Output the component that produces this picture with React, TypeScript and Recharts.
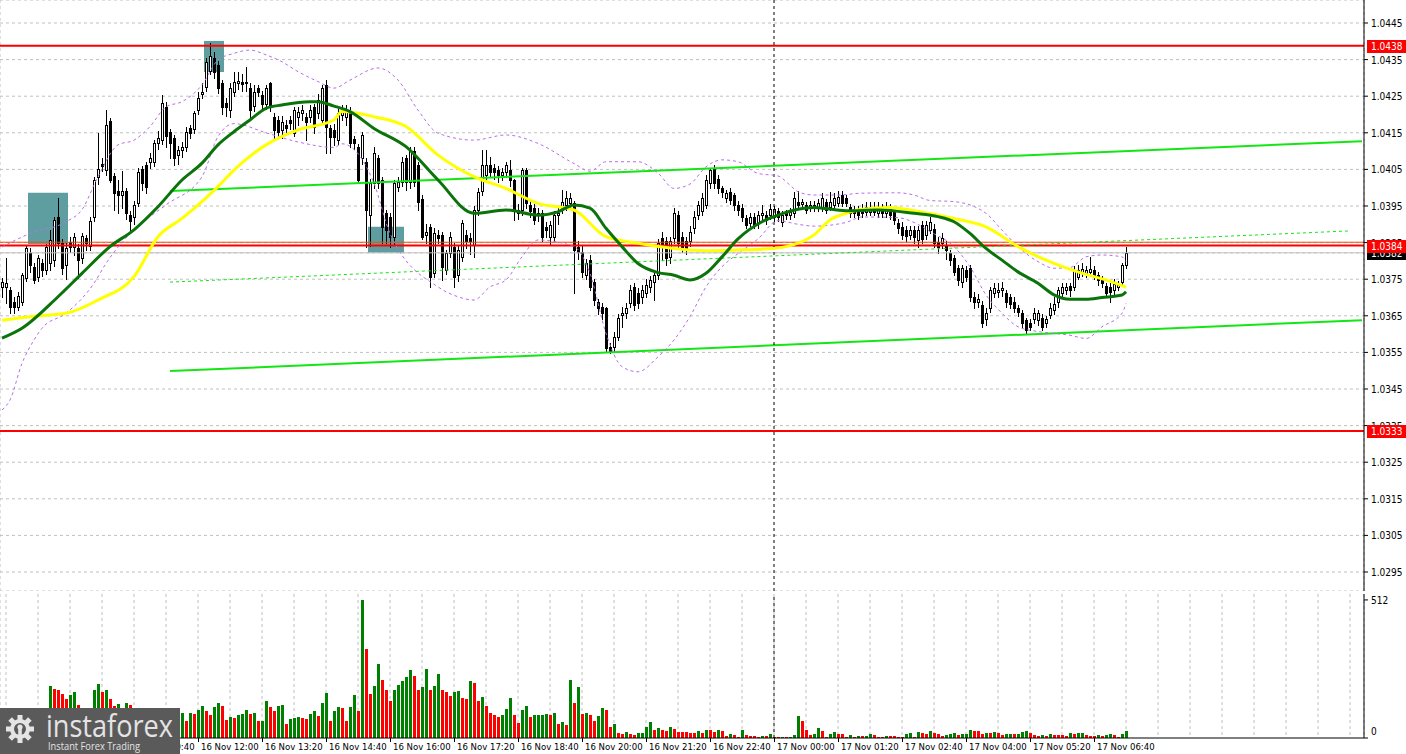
import React from "react";
import {
  ComposedChart,
  BarChart,
  Bar,
  Line,
  XAxis,
  YAxis,
  CartesianGrid,
  ReferenceLine,
  ReferenceArea,
  Cell,
} from "recharts";

// EURUSD-style M5 candles, 16 Nov 07:55 .. 17 Nov 07:20
const opens = [
  1.0373, 1.0373, 1.0372, 1.03689, 1.03675, 1.03689, 1.03752, 1.03822, 1.03784, 1.03757,
  1.03793, 1.03775, 1.03793, 1.03802, 1.03921, 1.03848, 1.03789, 1.03852, 1.03839, 1.03834,
  1.03807, 1.03862, 1.03841, 1.03921, 1.0403, 1.04065, 1.04048, 1.04183, 1.04032, 1.03991,
  1.0398, 1.03991, 1.03925, 1.03921, 1.03959, 1.0405, 1.04062, 1.04071, 1.04071, 1.04121,
  1.0413, 1.04221, 1.04153, 1.04135, 1.04089, 1.04103, 1.04112, 1.04162, 1.0416, 1.04212,
  1.04256, 1.04276, 1.0432, 1.04355, 1.04335, 1.04285, 1.04232, 1.04212, 1.04262, 1.04285,
  1.0429, 1.0429, 1.04272, 1.04223, 1.04272, 1.04253, 1.04229, 1.04285, 1.04194, 1.04185,
  1.04158, 1.04171, 1.04185, 1.04149, 1.04194, 1.04203, 1.04194, 1.04194, 1.04221, 1.04203,
  1.04185, 1.04281, 1.04162, 1.04158, 1.0413, 1.04198, 1.04194, 1.04208, 1.04132, 1.0411,
  1.0408, 1.0407, 1.03925, 1.04012, 1.0408, 1.04021, 1.0393, 1.03921, 1.03866, 1.04003,
  1.04016, 1.0408, 1.04016, 1.041, 1.04062, 1.0397, 1.0387, 1.03893, 1.03766, 1.0387,
  1.0387, 1.03775, 1.03821, 1.03839, 1.03761, 1.03811, 1.03871, 1.03862, 1.03843, 1.03939,
  1.0399, 1.04035, 1.04062, 1.04053, 1.04048, 1.04035, 1.04044, 1.04048, 1.0402, 1.03939,
  1.03939, 1.04048, 1.03953, 1.03944, 1.03925, 1.0393, 1.03893, 1.03866, 1.03866, 1.03925,
  1.03944, 1.03953, 1.03957, 1.03957, 1.03839, 1.03825, 1.03761, 1.03802, 1.03743, 1.03688,
  1.03675, 1.0367, 1.03565, 1.03565, 1.03593, 1.03652, 1.03657, 1.03684, 1.03729, 1.03711,
  1.03702, 1.03711, 1.03729, 1.03743, 1.03761, 1.03862, 1.03853, 1.03811, 1.03862, 1.03925,
  1.03866, 1.03853, 1.03853, 1.03889, 1.03925, 1.03935, 1.03953, 1.04012, 1.04053, 1.04025,
  1.03998, 1.03971, 1.03989, 1.0398, 1.03953, 1.03944, 1.03916, 1.03903, 1.03921, 1.03903,
  1.03925, 1.03925, 1.03925, 1.03921, 1.03935, 1.03907, 1.03932, 1.03925, 1.0393, 1.03962,
  1.03955, 1.03953, 1.03944, 1.03953, 1.03944, 1.03944, 1.03962, 1.03948, 1.03953, 1.03957,
  1.0398, 1.03971, 1.03948, 1.03941, 1.03941, 1.03944, 1.03934, 1.03934, 1.03948, 1.0393,
  1.03944, 1.0393, 1.03941, 1.03934, 1.03903, 1.03893, 1.03884, 1.03871, 1.03884, 1.03857,
  1.03898, 1.03871, 1.03884, 1.03888, 1.03852, 1.03848, 1.03843, 1.03821, 1.03807, 1.0378,
  1.03743, 1.03775, 1.0378, 1.03702, 1.03688, 1.03679, 1.0364, 1.0367, 1.03711, 1.03716,
  1.0372, 1.03711, 1.03702, 1.03688, 1.0367, 1.03658, 1.03638, 1.03631, 1.0364, 1.03638,
  1.03643, 1.03629, 1.03652, 1.03666, 1.03688, 1.03711, 1.0372, 1.03731, 1.0373, 1.03757,
  1.0377, 1.03766, 1.0377, 1.03775, 1.03761, 1.03752, 1.03731, 1.03729, 1.0372, 1.03729,
  1.03743, 1.03789,
];

const highs = [
  1.03752, 1.03807, 1.03729, 1.03702, 1.03715, 1.03766, 1.03843, 1.03835, 1.03795, 1.03815,
  1.03805, 1.03845, 1.03884, 1.0392, 1.03971, 1.0386, 1.0385, 1.03865, 1.03875, 1.03845,
  1.03875, 1.0387, 1.0392, 1.0403, 1.0415, 1.0408, 1.04212, 1.0419, 1.0404, 1.0402,
  1.04045, 1.04, 1.03935, 1.03965, 1.04055, 1.0406, 1.0407, 1.04095, 1.0413, 1.04155,
  1.04253, 1.04235, 1.0416, 1.04145, 1.04115, 1.04125, 1.04165, 1.0417, 1.0421, 1.04262,
  1.04285, 1.04355, 1.04395, 1.0437, 1.04345, 1.04295, 1.04245, 1.04285, 1.04315, 1.04315,
  1.0431, 1.0433, 1.04285, 1.0428, 1.0428, 1.04265, 1.0428, 1.0429, 1.04205, 1.04195,
  1.04195, 1.04185, 1.04195, 1.0422, 1.0422, 1.04225, 1.04205, 1.04225, 1.0423, 1.04255,
  1.0428, 1.04295, 1.0417, 1.04175, 1.04215, 1.04225, 1.04225, 1.0422, 1.0414, 1.0412,
  1.04153, 1.0408, 1.04025, 1.04112, 1.0409, 1.0403, 1.0394, 1.0393, 1.0402, 1.0403,
  1.04085, 1.0409, 1.0411, 1.0411, 1.0407, 1.0398, 1.039, 1.039, 1.0389, 1.03885,
  1.0388, 1.0383, 1.0388, 1.0385, 1.0384, 1.03912, 1.03885, 1.03875, 1.0395, 1.03998,
  1.04103, 1.04103, 1.04085, 1.04065, 1.0406, 1.04055, 1.04071, 1.04075, 1.04025, 1.03955,
  1.04055, 1.04055, 1.03965, 1.03955, 1.03945, 1.0394, 1.03905, 1.0391, 1.03935, 1.03945,
  1.03994, 1.0399, 1.03985, 1.03965, 1.03855, 1.0384, 1.03805, 1.03815, 1.0375, 1.03695,
  1.03685, 1.03675, 1.03575, 1.03605, 1.03655, 1.03675, 1.03685, 1.03735, 1.0374, 1.03725,
  1.03735, 1.0375, 1.0376, 1.0377, 1.0386, 1.0388, 1.03865, 1.03865, 1.03945, 1.03935,
  1.0388, 1.03865, 1.03895, 1.03935, 1.03965, 1.03985, 1.04035, 1.04055, 1.04062, 1.04035,
  1.04005, 1.03995, 1.03998, 1.03985, 1.03965, 1.03955, 1.03925, 1.0393, 1.0393, 1.03935,
  1.03953, 1.03935, 1.03955, 1.0395, 1.03945, 1.03935, 1.0394, 1.03945, 1.03989, 1.0399,
  1.0397, 1.03962, 1.03965, 1.03965, 1.0397, 1.03985, 1.0397, 1.03989, 1.03985, 1.0399,
  1.0399, 1.0398, 1.03955, 1.0395, 1.0395, 1.03955, 1.0396, 1.0396, 1.0396, 1.0396,
  1.03955, 1.0396, 1.03955, 1.0394, 1.03915, 1.03905, 1.03895, 1.03895, 1.03895, 1.03895,
  1.0391, 1.0391, 1.0392, 1.039, 1.03865, 1.03875, 1.03855, 1.0383, 1.03815, 1.0379,
  1.0379, 1.03785, 1.03789, 1.03715, 1.0371, 1.0369, 1.0367, 1.0373, 1.03739, 1.03739,
  1.03743, 1.0372, 1.0371, 1.037, 1.0368, 1.03665, 1.03645, 1.0364, 1.0367, 1.03665,
  1.03655, 1.0365, 1.03685, 1.037, 1.0373, 1.03739, 1.0374, 1.0374, 1.03785, 1.0379,
  1.03793, 1.03785, 1.0381, 1.03785, 1.0377, 1.0376, 1.0374, 1.03739, 1.0375, 1.03745,
  1.03795, 1.03839,
];

const lows = [
  1.03702, 1.03684, 1.03657, 1.03657, 1.03665, 1.0368, 1.03745, 1.0377, 1.0374, 1.03745,
  1.0376, 1.03765, 1.03775, 1.03785, 1.03835, 1.03765, 1.0375, 1.03825, 1.03815, 1.03752,
  1.03795, 1.0383, 1.0383, 1.0391, 1.0401, 1.04045, 1.04035, 1.04016, 1.0394, 1.0393,
  1.03945, 1.03915, 1.03885, 1.039, 1.0395, 1.03995, 1.03985, 1.04055, 1.0406, 1.04105,
  1.0412, 1.0411, 1.0408, 1.04062, 1.04065, 1.04085, 1.041, 1.04135, 1.0415, 1.042,
  1.04245, 1.04265, 1.0431, 1.043, 1.0426, 1.042, 1.04195, 1.04192, 1.0425, 1.0427,
  1.04265, 1.04265, 1.04185, 1.0421, 1.0425, 1.04215, 1.04215, 1.0421, 1.0413, 1.04135,
  1.04135, 1.04145, 1.0416, 1.0414, 1.0417, 1.04185, 1.0413, 1.0418, 1.0415, 1.0419,
  1.04175, 1.04094, 1.04094, 1.04117, 1.0412, 1.04185, 1.0417, 1.0411, 1.04105, 1.04016,
  1.04065, 1.03839, 1.0384, 1.04, 1.03998, 1.03848, 1.03848, 1.03839, 1.03845, 1.0399,
  1.04005, 1.03995, 1.04, 1.04005, 1.0394, 1.0386, 1.0385, 1.03729, 1.03755, 1.0385,
  1.03748, 1.03765, 1.0381, 1.0373, 1.03745, 1.038, 1.03835, 1.0382, 1.03811, 1.03925,
  1.0398, 1.0402, 1.0403, 1.04025, 1.04015, 1.0402, 1.0403, 1.04005, 1.03912, 1.03915,
  1.03925, 1.03945, 1.0392, 1.039, 1.0391, 1.03855, 1.03865, 1.03843, 1.03855, 1.039,
  1.0393, 1.0394, 1.03945, 1.03711, 1.03805, 1.03755, 1.0375, 1.0372, 1.0368, 1.03655,
  1.0364, 1.03552, 1.03548, 1.03552, 1.03585, 1.0362, 1.03645, 1.03675, 1.03665, 1.0367,
  1.03685, 1.037, 1.03715, 1.03693, 1.0375, 1.03802, 1.0379, 1.03795, 1.0385, 1.03835,
  1.03825, 1.0382, 1.0384, 1.03875, 1.03915, 1.03925, 1.03945, 1.04, 1.04, 1.03985,
  1.03975, 1.0396, 1.03955, 1.0394, 1.03925, 1.0391, 1.03889, 1.03895, 1.0389, 1.0389,
  1.03915, 1.039, 1.03915, 1.0391, 1.0391, 1.03895, 1.03915, 1.03915, 1.0392, 1.03945,
  1.03945, 1.0393, 1.03935, 1.03935, 1.03935, 1.03935, 1.0393, 1.0394, 1.03945, 1.0395,
  1.0395, 1.0395, 1.0392, 1.0392, 1.03915, 1.0392, 1.03925, 1.03925, 1.03925, 1.0392,
  1.0392, 1.0392, 1.03915, 1.039, 1.03875, 1.0386, 1.03855, 1.0386, 1.0385, 1.03839,
  1.0385, 1.0386, 1.03875, 1.03839, 1.03822, 1.03835, 1.03805, 1.0379, 1.03761, 1.03735,
  1.0373, 1.03745, 1.0369, 1.0367, 1.03675, 1.0362, 1.03625, 1.0366, 1.037, 1.037,
  1.03705, 1.03675, 1.0367, 1.0366, 1.0365, 1.0362, 1.036, 1.0361, 1.0363, 1.03625,
  1.0361, 1.0362, 1.03645, 1.03655, 1.03675, 1.037, 1.0371, 1.03705, 1.0372, 1.0375,
  1.0376, 1.03755, 1.0376, 1.0375, 1.03735, 1.0373, 1.037, 1.03688, 1.0371, 1.0372,
  1.03735, 1.0378,
];

const closes = [
  1.03743, 1.0374, 1.03675, 1.03675, 1.03705, 1.03761, 1.03834, 1.03789, 1.03748, 1.03807,
  1.03775, 1.03839, 1.03857, 1.03912, 1.03848, 1.0378, 1.03834, 1.03839, 1.03866, 1.03802,
  1.03869, 1.03848, 1.0391, 1.04021, 1.0405, 1.04058, 1.04171, 1.04021, 1.03985, 1.0398,
  1.03991, 1.0393, 1.0391, 1.03953, 1.04044, 1.04012, 1.04003, 1.04082, 1.04121, 1.04135,
  1.04231, 1.0414, 1.04121, 1.0408, 1.04103, 1.04112, 1.04153, 1.04149, 1.04203, 1.04244,
  1.04262, 1.04344, 1.0436, 1.04315, 1.04272, 1.04221, 1.04221, 1.04272, 1.0429, 1.04292,
  1.04283, 1.04285, 1.04212, 1.04262, 1.04262, 1.04229, 1.04272, 1.04221, 1.04158, 1.04153,
  1.0418, 1.04162, 1.04176, 1.04212, 1.04208, 1.04212, 1.0418, 1.04212, 1.04167, 1.0424,
  1.04272, 1.04167, 1.04139, 1.04139, 1.04203, 1.04208, 1.04212, 1.04121, 1.04121, 1.04021,
  1.04144, 1.0394, 1.04012, 1.04094, 1.04012, 1.03893, 1.03884, 1.03866, 1.04012, 1.04016,
  1.04071, 1.04016, 1.04103, 1.04016, 1.03962, 1.03866, 1.0388, 1.03757, 1.03875, 1.03862,
  1.03784, 1.03821, 1.03866, 1.03757, 1.0383, 1.03903, 1.03853, 1.03853, 1.03939, 1.03989,
  1.04062, 1.04062, 1.04044, 1.04044, 1.04035, 1.04044, 1.04062, 1.04021, 1.03939, 1.0393,
  1.04048, 1.03957, 1.03935, 1.03912, 1.0393, 1.03866, 1.03884, 1.03898, 1.03925, 1.0393,
  1.03962, 1.03971, 1.03971, 1.0383, 1.03825, 1.0377, 1.03793, 1.0373, 1.03693, 1.0367,
  1.03657, 1.03561, 1.03552, 1.03593, 1.03643, 1.03657, 1.0367, 1.0372, 1.03679, 1.03684,
  1.0372, 1.03734, 1.03748, 1.03761, 1.03848, 1.03839, 1.03807, 1.03853, 1.0393, 1.03848,
  1.03839, 1.03835, 1.0388, 1.03921, 1.03953, 1.03971, 1.04021, 1.04048, 1.04012, 1.03998,
  1.03989, 1.03985, 1.03966, 1.03953, 1.03939, 1.03921, 1.03898, 1.03921, 1.03898, 1.03925,
  1.03932, 1.03912, 1.03941, 1.03941, 1.03921, 1.03925, 1.03925, 1.03934, 1.03971, 1.03953,
  1.03962, 1.03939, 1.03953, 1.03944, 1.03957, 1.03971, 1.03939, 1.03962, 1.03971, 1.03975,
  1.03957, 1.03957, 1.0393, 1.0393, 1.03925, 1.0393, 1.03948, 1.03948, 1.03934, 1.03948,
  1.0393, 1.03948, 1.03925, 1.03912, 1.03889, 1.03871, 1.03868, 1.03884, 1.03866, 1.03884,
  1.03861, 1.03898, 1.03905, 1.03848, 1.03839, 1.03862, 1.0383, 1.03802, 1.0377, 1.03748,
  1.0378, 1.03757, 1.03702, 1.03688, 1.03695, 1.03629, 1.03658, 1.0372, 1.03725, 1.0372,
  1.03725, 1.03688, 1.03682, 1.0367, 1.03661, 1.03629, 1.03611, 1.0362, 1.03658, 1.03658,
  1.0362, 1.0364, 1.0367, 1.03682, 1.0372, 1.03729, 1.03729, 1.0372, 1.03773, 1.03775,
  1.03779, 1.03775, 1.03779, 1.03761, 1.03748, 1.03739, 1.03711, 1.03716, 1.03737, 1.03735,
  1.03789, 1.03822,
];

const volumes = [
  55, 70, 85, 60, 75, 95, 80, 65, 90, 70,
  85, 100, 194, 182, 179, 164, 145, 160, 171, 122,
  111, 95, 105, 179, 201, 171, 179, 145, 119, 126,
  105, 130, 122, 100, 95, 111, 90, 85, 100, 80,
  95, 111, 90, 80, 70, 92, 62, 92, 89, 104,
  119, 100, 85, 115, 130, 119, 66, 77, 74, 85,
  89, 104, 89, 92, 62, 64, 137, 115, 100, 119,
  122, 51, 70, 74, 77, 74, 70, 89, 100, 81,
  130, 167, 62, 100, 115, 111, 62, 115, 160, 100,
  512, 329, 164, 194, 276, 216, 179, 137, 179, 197,
  212, 227, 254, 231, 179, 190, 257, 179, 194, 239,
  179, 171, 156, 171, 175, 149, 145, 212, 205, 137,
  152, 119, 92, 85, 77, 85, 107, 149, 85, 55,
  104, 119, 77, 85, 86, 87, 89, 85, 92, 51,
  59, 47, 216, 130, 190, 89, 92, 85, 62, 81,
  111, 104, 40, 51, 17, 14, 21, 14, 10, 17,
  18, 40, 59, 29, 36, 29, 25, 40, 32, 21,
  21, 21, 20, 18, 26, 19, 30, 30, 22, 30,
  26, 7, 15, 11, 4, 30, 11, 7, 7, 4,
  7, 7, 15, 4, 2, 4, 2, 4, 11, 82,
  64, 30, 11, 15, 37, 26, 4, 15, 22, 15,
  15, 4, 11, 4, 7, 7, 8, 15, 11, 4,
  4, 7, 7, 7, 4, 4, 15, 19, 4, 22,
  19, 15, 26, 19, 15, 7, 11, 15, 19, 11,
  15, 16, 30, 26, 26, 15, 19, 19, 22, 19,
  11, 15, 16, 15, 16, 22, 26, 19, 11, 7,
  11, 7, 15, 11, 11, 11, 7, 19, 15, 19,
  20, 11, 7, 7, 11, 7, 11, 15, 11, 4,
  15, 26,
];

// indicator readings [candle index, price]
const slowMa: [number, number][] = [
  [0, 1.03638], [8, 1.03649], [16, 1.03657], [24, 1.03693], [33, 1.03757], [39, 1.03866],
  [45, 1.03916], [54, 1.04003], [58, 1.04048], [66, 1.04117], [74, 1.04158], [83, 1.04185],
  [85, 1.04208], [93, 1.04194], [101, 1.04167], [109, 1.04089], [118, 1.0403], [126, 1.03998],
  [134, 1.03957], [143, 1.03939], [151, 1.03866], [159, 1.03848], [168, 1.03834], [176, 1.03828],
  [184, 1.0383], [190, 1.03832], [196, 1.03839], [203, 1.03871], [207, 1.03912], [211, 1.0393],
  [215, 1.03941], [222, 1.03946], [228, 1.03937], [238, 1.03916], [246, 1.03893], [254, 1.03839],
  [263, 1.03793], [271, 1.03763], [276, 1.03748], [281, 1.03728],
];

const fastMa: [number, number][] = [
  [0, 1.03589], [5, 1.03616], [14, 1.03702], [20, 1.03766], [27, 1.03839], [33, 1.03885],
  [39, 1.03948], [45, 1.04021], [50, 1.04067], [54, 1.04117], [58, 1.04153], [62, 1.04185],
  [66, 1.04217], [70, 1.04226], [77, 1.04235], [79, 1.04235], [83, 1.04223], [87, 1.04208],
  [93, 1.04162], [101, 1.04112], [109, 1.04021], [118, 1.0393], [126, 1.03939], [134, 1.03925],
  [139, 1.03934], [143, 1.03953], [147, 1.03944], [151, 1.03889], [155, 1.03839], [159, 1.03793],
  [164, 1.03768], [168, 1.03761], [172, 1.03748], [176, 1.03766], [180, 1.03811], [184, 1.0386],
  [190, 1.03907], [194, 1.03925], [199, 1.03941], [203, 1.03946], [211, 1.03937], [219, 1.03939],
  [228, 1.0393], [234, 1.03921], [238, 1.03907], [242, 1.03875], [246, 1.03834], [250, 1.03802],
  [254, 1.0377], [259, 1.03739], [263, 1.03707], [267, 1.03695], [271, 1.03695], [275, 1.037],
  [280, 1.03707], [281, 1.03716],
];

const bandUpper: [number, number][] = [
  [0, 1.03838], [7, 1.03875], [16, 1.03907], [20, 1.0394], [24, 1.0403], [29, 1.04117],
  [33, 1.0413], [37, 1.04167], [41, 1.04221], [45, 1.04235], [50, 1.04281], [54, 1.04349],
  [58, 1.04367], [62, 1.04376], [66, 1.04363], [70, 1.04344], [74, 1.04317], [79, 1.0429],
  [83, 1.04272], [87, 1.04294], [94, 1.04327], [99, 1.04294], [104, 1.04212], [109, 1.04149],
  [118, 1.0413], [126, 1.04144], [134, 1.04121], [143, 1.04066], [147, 1.04045], [151, 1.04071],
  [159, 1.04071], [164, 1.0404], [168, 1.03998], [172, 1.0401], [176, 1.04057], [180, 1.04076],
  [184, 1.04071], [189, 1.04039], [194, 1.04032], [197, 1.04007], [199, 1.03989], [203, 1.0398],
  [209, 1.0398], [215, 1.03985], [224, 1.03986], [228, 1.0398], [232, 1.03965], [238, 1.03962],
  [246, 1.0393], [250, 1.03884], [254, 1.03839], [259, 1.03798], [263, 1.0378], [267, 1.03782],
  [271, 1.03811], [275, 1.03816], [280, 1.03811], [281, 1.03798],
];

const bandLower: [number, number][] = [
  [0, 1.03393], [2, 1.0342], [5, 1.0352], [8, 1.03584], [10, 1.03616], [16, 1.03657],
  [23, 1.03739], [26, 1.03793], [33, 1.03885], [41, 1.03953], [50, 1.0403], [54, 1.0414],
  [58, 1.04175], [66, 1.0415], [74, 1.04125], [83, 1.0411], [85, 1.0412], [93, 1.04012],
  [97, 1.03875], [109, 1.03729], [114, 1.03702], [118, 1.03693], [122, 1.03729], [126, 1.03748],
  [130, 1.03811], [134, 1.03857], [143, 1.03839], [147, 1.03766], [151, 1.03602], [155, 1.03511],
  [159, 1.03497], [164, 1.03538], [168, 1.03584], [172, 1.03648], [176, 1.03729], [180, 1.03784],
  [184, 1.0382], [189, 1.0386], [194, 1.0391], [199, 1.039], [203, 1.03895], [211, 1.03905],
  [215, 1.0392], [224, 1.03918], [228, 1.03905], [232, 1.0388], [238, 1.03839], [242, 1.03784],
  [246, 1.03707], [250, 1.03657], [254, 1.0362], [259, 1.03607], [263, 1.03602], [267, 1.03597],
  [271, 1.03588], [275, 1.0362], [280, 1.03657], [281, 1.03684],
];

const priceTicks = [
  1.0445, 1.0435, 1.0425, 1.0415, 1.0405, 1.0395, 1.0385, 1.0375,
  1.0365, 1.0355, 1.0345, 1.0335, 1.0325, 1.0315, 1.0305, 1.0295,
];
const volumeTicks = [0, 512];

// first visible label sits half under the logo
const timeLabels = [
  "16 Nov 10:40", "16 Nov 12:00", "16 Nov 13:20", "16 Nov 14:40", "16 Nov 16:00", "16 Nov 17:20",
  "16 Nov 18:40", "16 Nov 20:00", "16 Nov 21:20", "16 Nov 22:40", "17 Nov 00:00", "17 Nov 01:20",
  "17 Nov 02:40", "17 Nov 04:00", "17 Nov 05:20", "17 Nov 06:40",
];
const timeLabelAt = [33, 49, 65, 81, 97, 113, 129, 145, 161, 177, 193, 209, 225, 241, 257, 273];
const DAY_SPLIT = 193;

const levels = [
  { value: 1.04388, text: "1.0438" },
  { value: 1.03842, text: "1.0384" },
  { value: 1.03335, text: "1.0333" },
];
const bid = { value: 1.03822, text: "1.0382" };
const orangeLevel = 1.03851;

const zones = [
  { from: 7, to: 16, low: 1.03846, high: 1.03986 },
  { from: 51, to: 55, low: 1.04316, high: 1.04401 },
  { from: 92, to: 100, low: 1.03822, high: 1.03893 },
];

const channel = [
  { from: 42, to: 340, start: 1.03991, end: 1.04127 },
  { from: 42, to: 340, start: 1.03499, end: 1.03638 },
];
const dottedTrend = { from: 42, to: 337, start: 1.03742, end: 1.03882 };

const FONT = "Tahoma, 'DejaVu Sans Condensed', 'DejaVu Sans', sans-serif";
const SLOTS = 341;
const PRICE_TOP = 1.045128;
const PRICE_BOTTOM = 1.028981;
const VOL_MAX = 534;

const gridTicks = Array.from({ length: 43 }, (_, k) => 1 + 8 * k);

// tags are drawn last on the price axis so they cover the plain ticks
const tags = [
  { ...bid, bg: "#000000" },
  ...levels.map((l) => ({ ...l, bg: "#ff0000" })),
];
const axisTicks = [...priceTicks, ...tags.map((t) => t.value)];

const rows = Array.from({ length: SLOTS }, (_, i) => {
  const has = i < opens.length;
  return {
    i,
    range: has ? [lows[i], highs[i]] : null,
    open: has ? opens[i] : null,
    close: has ? closes[i] : null,
    vol: has ? volumes[i] : null,
    slow: null as number | null,
    fast: null as number | null,
    up: null as number | null,
    lo: null as number | null,
  };
});
slowMa.forEach(([i, v]) => (rows[i].slow = v));
fastMa.forEach(([i, v]) => (rows[i].fast = v));
bandUpper.forEach(([i, v]) => (rows[i].up = v));
bandLower.forEach(([i, v]) => (rows[i].lo = v));

const volUp = volumes.map((v, i) => i === 0 || v > volumes[i - 1]);

const Candle = (props: any) => {
  const { x, y, width, height, payload } = props;
  if (!payload || payload.range == null) return null;
  const [lo, hi] = payload.range;
  const span = hi - lo || 1e-9;
  const toY = (v: number) => y + ((hi - v) / span) * height;
  const left = Math.round(x + width / 2 - 2);
  const cx = left + 2.5;
  const yo = toY(payload.open);
  const yc = toY(payload.close);
  const top = Math.round(Math.min(yo, yc));
  const bot = Math.round(Math.max(yo, yc));
  const bull = payload.close >= payload.open;
  return (
    <g>
      <line x1={cx} x2={cx} y1={Math.round(y)} y2={Math.round(y + height) + 1} stroke="#000" />
      {bot - top < 1 ? (
        <line x1={left + 1} x2={left + 4} y1={top + 0.5} y2={top + 0.5} stroke="#000" />
      ) : (
        <rect x={left + 1.5} y={top + 0.5} width={2} height={bot - top} fill={bull ? "#fff" : "#000"} stroke="#000" />
      )}
    </g>
  );
};

const VolBar = (props: any) => {
  const { x, y, width, height, fill } = props;
  if (!height || height <= 0) return null;
  const left = Math.round(x + width / 2 - 2);
  const top = Math.round(y);
  const bottom = Math.round(y + height);
  return <rect x={left + 1} y={top} width={3} height={Math.max(1, bottom - top)} fill={fill} />;
};

const PriceTick = (props: any) => {
  const { x, y, payload } = props;
  const tag = tags.find((t) => Math.abs(t.value - payload.value) < 1e-7);
  if (tag) {
    const cy = Math.round(y);
    return (
      <g>
        <rect x={x - 3} y={cy - 6} width={40} height={13} fill={tag.bg} />
        <text x={x + 1} y={cy + 4} fontSize={10} fill="#fff" fontFamily={FONT}>
          {tag.text}
        </text>
      </g>
    );
  }
  return (
    <g>
      <line x1={x - 6} x2={x - 2} y1={y} y2={y} stroke="#000" />
      <text x={x + 1} y={y + 4} fontSize={10} fill="#000" fontFamily={FONT}>
        {Number(payload.value).toFixed(4)}
      </text>
    </g>
  );
};

const VolTick = (props: any) => {
  const { x, y, payload } = props;
  const dy = payload.value === 0 ? -3 : 4;
  return (
    <text x={x + 1} y={y + dy} fontSize={10} fill="#000" fontFamily={FONT}>
      {payload.value}
    </text>
  );
};

const TimeTick = (props: any) => {
  const { x, y, payload } = props;
  const k = timeLabelAt.indexOf(payload.value);
  if (k < 0) return null;
  return (
    <g>
      <line x1={x + 0.5} x2={x + 0.5} y1={y} y2={y + 4} stroke="#000" />
      <text x={x + 3} y={y + 12} fontSize={9.5} fill="#000" fontFamily={FONT}>
        {timeLabels[k]}
      </text>
    </g>
  );
};

const Logo = () => (
  <svg width={180} height={46} style={{ position: "absolute", left: 0, top: 708 }}>
    <rect width={180} height={46} fill="#5a5a5a" />
    <g transform="translate(20 21)" fill="#e4e4e4">
      {Array.from({ length: 8 }, (_, k) => (
        <rect key={k} x={-2.5} y={-14} width={5} height={6} transform={`rotate(${k * 45})`} />
      ))}
      <circle r={10} />
      <circle r={6} fill="#5a5a5a" />
      <circle cy={-2} r={2.6} />
      <rect x={-1.8} y={0} width={3.6} height={10} />
    </g>
    <text
      x={46}
      y={29}
      fill="#e4e4e4"
      fontSize={31}
      fontFamily="'Open Sans', 'DejaVu Sans', sans-serif"
      textLength={127}
      lengthAdjust="spacingAndGlyphs"
    >
      instaforex
    </text>
    <text
      x={48}
      y={42}
      fill="#e4e4e4"
      fontSize={11}
      fontFamily="'Open Sans', 'DejaVu Sans', sans-serif"
      textLength={92}
      lengthAdjust="spacingAndGlyphs"
    >
      Instant Forex Trading
    </text>
  </svg>
);

export default function App() {
  return (
    <div
      style={{
        position: "absolute",
        left: 0,
        top: 0,
        width: 1406,
        height: 754,
        background: "#fff",
        overflow: "hidden",
        fontFamily: FONT,
      }}
    >
      <ComposedChart
        width={1406}
        height={591}
        data={rows}
        margin={{ top: 0, right: 0, bottom: 0, left: 0 }}
        barCategoryGap={0}
      >
        <CartesianGrid stroke="#c0c0c0" strokeDasharray="3 3" />
        <XAxis
          dataKey="i"
          type="category"
          ticks={gridTicks}
          interval={0}
          tick={false}
          tickLine={false}
          height={0}
          stroke="#000"
        />
        <YAxis
          orientation="right"
          width={42}
          domain={[PRICE_BOTTOM, PRICE_TOP]}
          allowDataOverflow
          ticks={axisTicks}
          interval={0}
          tick={<PriceTick />}
          tickLine={false}
          tickSize={4}
          tickMargin={2}
          stroke="#000"
        />
        {zones.map((z, k) => (
          <ReferenceArea
            key={`z${k}`}
            x1={z.from}
            x2={z.to}
            y1={z.low}
            y2={z.high}
            fill="#5f9ea0"
            fillOpacity={1}
            stroke="none"
          />
        ))}
        <ReferenceLine y={orangeLevel} stroke="#ff4500" />
        <ReferenceLine y={bid.value} stroke="#c0c0c0" />
        {levels.map((l) => (
          <ReferenceLine key={l.text} y={l.value} stroke="#ff0000" strokeWidth={2} />
        ))}
        {channel.map((c, k) => (
          <ReferenceLine
            key={`c${k}`}
            segment={[
              { x: c.from, y: c.start },
              { x: c.to, y: c.end },
            ]}
            stroke="#14e614"
            strokeWidth={2}
          />
        ))}
        <ReferenceLine
          segment={[
            { x: dottedTrend.from, y: dottedTrend.start },
            { x: dottedTrend.to, y: dottedTrend.end },
          ]}
          stroke="#14e614"
          strokeDasharray="3 3"
        />
        <ReferenceLine x={DAY_SPLIT} stroke="#000" strokeDasharray="3 3" />
        <Bar dataKey="range" shape={<Candle />} isAnimationActive={false} />
        <Line dataKey="up" type="monotone" stroke="#b86ee8" strokeDasharray="3 3" dot={false} activeDot={false} connectNulls isAnimationActive={false} />
        <Line dataKey="lo" type="monotone" stroke="#b86ee8" strokeDasharray="3 3" dot={false} activeDot={false} connectNulls isAnimationActive={false} />
        <Line dataKey="slow" type="monotone" stroke="#ffff00" strokeWidth={3} dot={false} activeDot={false} connectNulls isAnimationActive={false} />
        <Line dataKey="fast" type="monotone" stroke="#0a740a" strokeWidth={3} dot={false} activeDot={false} connectNulls isAnimationActive={false} />
      </ComposedChart>

      <div style={{ position: "absolute", left: 0, top: 594 }}>
        <BarChart
          width={1406}
          height={160}
          data={rows}
          margin={{ top: 0, right: 0, bottom: 0, left: 0 }}
          barCategoryGap={0}
        >
          <CartesianGrid stroke="#c0c0c0" strokeDasharray="3 3" horizontal={false} />
          <XAxis
            dataKey="i"
            type="category"
            ticks={gridTicks}
            interval={0}
            tick={<TimeTick />}
            tickLine={false}
            tickSize={0}
            tickMargin={0}
            height={16}
            stroke="#000"
          />
          <XAxis xAxisId="top" dataKey="i" orientation="top" tick={false} tickLine={false} height={0} stroke="#000" />
          <YAxis
            orientation="right"
            width={42}
            domain={[0, VOL_MAX]}
            allowDataOverflow
            ticks={volumeTicks}
            interval={0}
            tick={<VolTick />}
            tickSize={4}
            tickMargin={2}
            stroke="#000"
          />
          <ReferenceLine x={DAY_SPLIT} stroke="#000" strokeDasharray="3 3" />
          <Bar dataKey="vol" shape={<VolBar />} isAnimationActive={false}>
            {rows.map((r, k) => (
              <Cell key={k} fill={k < volUp.length && volUp[k] ? "#008000" : "#ff0000"} />
            ))}
          </Bar>
        </BarChart>
      </div>
      <Logo />
    </div>
  );
}
